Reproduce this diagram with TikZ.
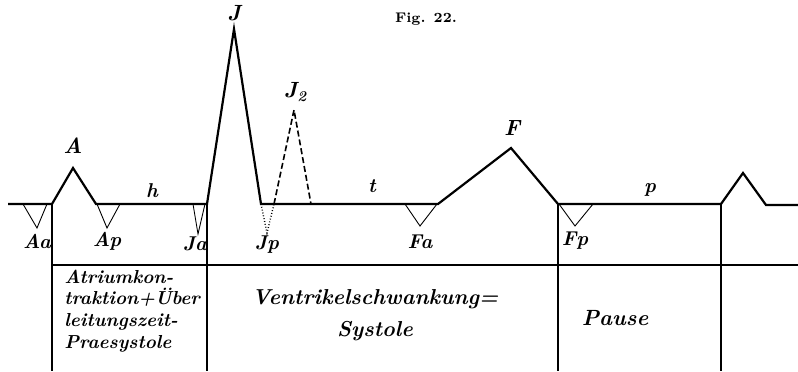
\documentclass[tikz,border=0pt]{standalone}
\usepackage{tikz}
\begin{document}
\begin{tikzpicture}[x=0.5pt, y=-0.5pt, font=\bfseries\itshape,
    wave/.style={line width=1.1pt, line join=miter},
    dip/.style={line width=0.45pt},
    rule/.style={line width=0.8pt},
    pt/.style={font=\fontsize{10}{11}\selectfont\bfseries\itshape},
    big/.style={font=\fontsize{11}{12}\selectfont\bfseries\itshape}]
  \useasboundingbox (0,0) rectangle (798,371);
  % title
  \node[font=\fontsize{7}{8}\selectfont\bfseries] (title) at (426,19) {Fig. 22.};
  % the curve
  \draw[wave] (8,204) -- (52,204) -- (73,168) -- (96,204) -- (207,204)
    -- (234,29) -- (261,204) -- (438,204) -- (511,148) -- (558,204)
    -- (721,204) -- (743,173) -- (766,205) -- (798,205);
  % small dips below the line
  \draw[dip] (23,204) -- (37,228) -- (47,204);
  \draw[dip] (97,204) -- (107,228) -- (120,204);
  \draw[dip] (193,204) -- (198,234) -- (205,204);
  \draw[dip, densely dotted, line width=0.7pt] (261,204) -- (267,233) -- (274,204);
  \draw[dip] (405,204) -- (420,226) -- (437,204);
  \draw[dip] (559,204) -- (575,226) -- (593,204);
  % second peak J2
  \draw[dashed, line width=0.8pt, dash pattern=on 3pt off 1.5pt] (274,204) -- (294,110) -- (311,204);
  % partitions
  \draw[rule] (52,204) -- (52,371);
  \draw[rule] (207,204) -- (207,371);
  \draw[rule] (558,204) -- (558,371);
  \draw[rule] (721,204) -- (721,371);
  \draw[rule] (52,265) -- (798,265);
  % labels of the curve
  \node[big] (lA) at (73,146) {A};
  \node[big] (lJ) at (234,13) {J};
  \node[big] (lJz) at (295,92) {J\raisebox{-0.4ex}{\fontsize{7.5}{8}\selectfont 2}};
  \node[big] (lF) at (512,128) {F};
  \node[pt] (lAa) at (37,241) {Aa};
  \node[pt] (lAp) at (107,241) {Ap};
  \node[pt] (lJa) at (195,244) {Ja};
  \node[pt] (lJp) at (267,245) {Jp};
  \node[pt] (lFa) at (420,242) {Fa};
  \node[pt] (lFp) at (575,241) {Fp};
  \node[pt] (lh) at (152,191) {h};
  \node[pt] (lt) at (372,186) {t};
  \node[pt] (lp) at (650,190) {p};
  % texts of the periods
  \node[align=left, anchor=west, inner sep=0pt,
    font=\fontsize{9.4}{10.8}\selectfont\bfseries\itshape] (pre) at (64,311)
    {Atriumkon-\\traktion+Über\\leitungszeit-\\Praesystole};
  \node[align=center, font=\fontsize{10.8}{16}\selectfont\bfseries\itshape] (sys) at (375,315)
    {Ventrikelschwankung=\\Systole};
  \node[font=\fontsize{11}{12}\selectfont\bfseries\itshape] (pause) at (615,318) {Pause};
\end{tikzpicture}
\end{document}
